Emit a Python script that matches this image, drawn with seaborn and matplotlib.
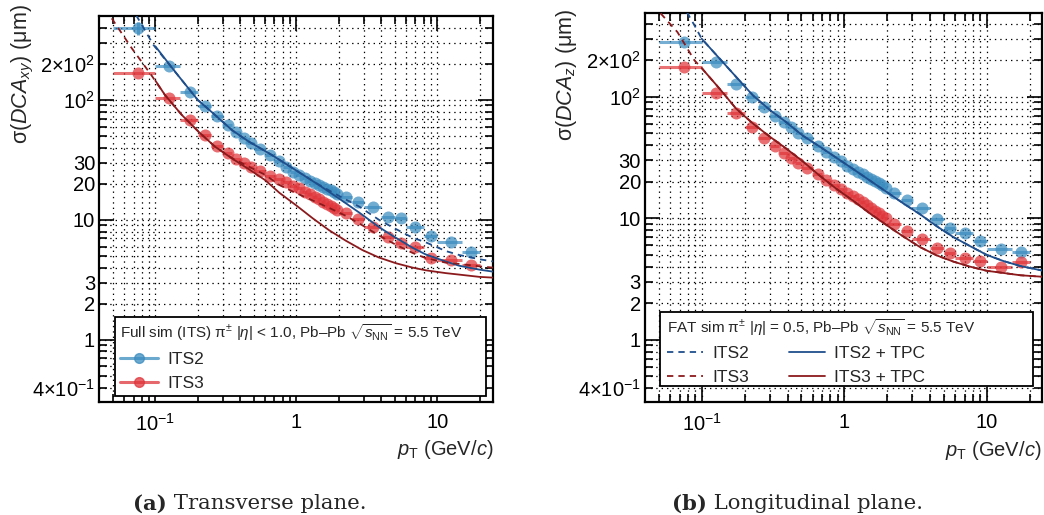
import numpy as np
import matplotlib
matplotlib.use('Agg')
import matplotlib.pyplot as plt
from matplotlib.lines import Line2D
from matplotlib.patches import Rectangle
import seaborn as sns

# pT bins of the simulated points (GeV/c)
pt_edges = [0.05, 0.1, 0.15, 0.2, 0.25, 0.3, 0.35, 0.4, 0.45, 0.5,
            0.6, 0.7, 0.8, 0.9, 1.0, 1.1, 1.2, 1.3, 1.4, 1.5, 1.6, 1.7, 1.8, 1.9, 2.0,
            2.5, 3.0, 4.0, 5.0, 6.0, 8.0, 10.0, 15.0, 20.0]

# full sim, transverse plane (um)
its2_xy_pts = [395, 192, 117, 89.7, 74, 62, 54.5, 47.9, 44, 38.8, 34.8, 31, 27.8, 25.3,
               23.7, 22.3, 21.2, 20.2, 19.5, 18.8, 18.2, 17.6, 17.1, 16.6,
               15.4, 14.2, 12.7, 10.5, 10.3, 8.8, 7.36, 6.6, 5.44]
its2_xy_yerr = [50] + [0] * 32
its3_xy_pts = [167, 103, 68, 51.1, 41.4, 36.4, 32.2, 29.7, 27.8, 25.6, 23.3, 21.8, 20.6, 19.0,
               18.4, 17.2, 16.4, 15.6, 14.9, 14.2, 13.6, 13.1, 12.6, 12.2,
               11.5, 10.1, 8.7, 7.2, 6.4, 6.0, 4.8, 4.64, 4.2]

# longitudinal plane (um)
its2_z_pts = [281, 192, 128, 99, 82, 70, 62, 56, 50.5, 46, 39.5, 35.3, 32, 29.5,
              27, 25.3, 24, 23, 22, 21.2, 20.3, 19.5, 18.7, 17.8,
              16.2, 14.2, 12.1, 9.9, 8.4, 7.5, 6.5, 5.6, 5.3]
its3_z_pts = [176, 107, 73, 56, 46, 39.3, 34.6, 31.1, 28.3, 25.8, 23.0, 20.7, 18.8, 17.3,
              16.1, 15.2, 14.3, 13.5, 12.8, 12.1, 11.5, 11.0, 10.5, 10.1,
              8.9, 7.8, 6.7, 5.7, 5.2, 4.7, 4.45, 4.0, 4.35]

# analytic (FAT) curves, transverse plane
its2_xy_x = [0.073, 0.097, 0.138, 0.2, 0.265, 0.35, 0.46, 0.67, 1.0, 1.46, 2.02, 2.8,
             3.87, 4.8, 6.7, 8.3, 11.5, 14.3, 19.9, 25]
its2_xy_y = [510, 287, 172, 100, 75, 56, 45, 34.8, 25.8, 19.5, 15.8, 12.9,
             10.0, 8.7, 7.1, 6.5, 5.5, 5.1, 4.7, 4.5]
its2tpc_xy_x = [0.1, 0.138, 0.2, 0.265, 0.35, 0.46, 0.67, 1.0, 1.46, 2.02, 2.8,
                3.87, 4.8, 6.7, 8.3, 11.5, 14.3, 19.9, 25]
its2tpc_xy_y = [280, 172, 100, 75, 56, 45, 34.8, 25.8, 19.4, 15.0, 11.5,
                8.7, 7.4, 5.85, 5.15, 4.5, 4.15, 3.85, 3.7]
its3_xy_x = [0.049, 0.068, 0.094, 0.117, 0.154, 0.202, 0.265, 0.35, 0.46, 0.6, 0.76, 1.0,
             1.31, 1.71, 2.25, 2.95, 3.87, 5.1, 6.7, 8.3, 11.5, 14.3, 19.9, 25]
its3_xy_y = [479, 270, 160, 110, 75, 54.5, 40.8, 32.8, 27.8, 23.8, 19.5, 16.7,
             14.5, 12.6, 10.8, 9.0, 7.4, 6.2, 5.3, 4.8, 4.4, 4.3, 4.1, 4.0]
its3tpc_xy_x = [0.1, 0.117, 0.154, 0.202, 0.265, 0.35, 0.46, 0.6, 0.76, 1.0, 1.31, 1.71,
                2.25, 2.95, 3.87, 5.1, 6.7, 8.3, 11.5, 14.3, 19.9, 25]
its3tpc_xy_y = [145, 110, 75, 54.5, 40.8, 32.5, 26.5, 21.5, 16.8, 13.2, 10.3, 8.2,
                6.7, 5.6, 4.85, 4.35, 4.0, 3.8, 3.6, 3.5, 3.35, 3.3]

# analytic curves, longitudinal plane
tpc_z_x = [0.1, 0.133, 0.174, 0.228, 0.30, 0.39, 0.51, 0.67, 0.88, 1.15, 1.51, 1.98,
           2.59, 3.4, 4.46, 5.84, 7.65, 10.0, 13.1, 17.2, 25]
its2tpc_z_y = [300, 207, 146, 103, 78, 62, 48, 39, 31.5, 25.5, 20.5, 16.5,
               13.3, 10.8, 8.6, 7.0, 5.9, 5.0, 4.45, 4.05, 3.7]
its3tpc_z_y = [172, 117, 80, 60.4, 47, 37.6, 29.5, 22.5, 17.5, 14.0, 11.0, 8.8,
               7.1, 5.8, 4.95, 4.4, 4.0, 3.7, 3.55, 3.4, 3.3]
its2_z_lowx = [0.0787, 0.089]
its2_z_lowy = [497, 386]
its3_z_lowx = [0.0515, 0.0676, 0.089]
its3_z_lowy = [485, 340, 199]

c_its2_pt = '#3b8cc0'
c_its3_pt = '#e0363b'
c_its2_ln = '#1f4e8c'
c_its3_ln = '#8b1a1d'
dash = (0, (3.5, 2.8))

sns.set_style('ticks')
plt.rcParams['font.family'] = ['Liberation Sans', 'DejaVu Sans']
plt.rcParams['mathtext.fontset'] = 'custom'
plt.rcParams['mathtext.rm'] = 'Liberation Sans'
plt.rcParams['mathtext.it'] = 'Liberation Sans:italic'
plt.rcParams['mathtext.bf'] = 'Liberation Sans:bold'

edges = np.array(pt_edges)
pt_c = 0.5 * (edges[1:] + edges[:-1])
pt_lo = pt_c - edges[:-1]
pt_hi = edges[1:] - pt_c

fig = plt.figure(figsize=(10.44, 5.15), dpi=100)
ax1 = fig.add_axes([0.0951, 0.22, 0.3774, 0.7495])
ax2 = fig.add_axes([0.6178, 0.22, 0.380, 0.7553])


def points(ax, y, color, yerr=None):
    ax.errorbar(pt_c, y, xerr=[pt_lo, pt_hi], yerr=yerr, fmt='none', ecolor=color,
                elinewidth=2.2, alpha=0.7, capsize=0, zorder=3)
    sns.scatterplot(x=pt_c, y=y, ax=ax, color=color, s=75, alpha=0.72,
                    linewidth=0, zorder=4)


def curve(ax, x, y, color, ls='-'):
    sns.lineplot(x=x, y=y, ax=ax, color=color, linewidth=1.3, linestyle=ls,
                 estimator=None, sort=False, zorder=5)


def style_axes(ax, ylabel, ylim, xlim):
    ax.set_xscale('log')
    ax.set_yscale('log')
    ax.set_xlim(*xlim)
    ax.set_ylim(*ylim)
    ax.set_xticks([0.1, 1, 10], labels=['$10^{-1}$', '1', '10'])
    ax.set_xticks([0.05, 0.06, 0.07, 0.08, 0.09, 0.2, 0.3, 0.4, 0.5, 0.6, 0.7, 0.8, 0.9,
                   2, 3, 4, 5, 6, 7, 8, 9, 20], minor=True)
    ax.set_yticks([1, 10, 100], labels=['1', '10', '$10^2$'])
    yminor = [0.4, 0.5, 0.6, 0.7, 0.8, 0.9, 2, 3, 4, 5, 6, 7, 8, 9,
              20, 30, 40, 50, 60, 70, 80, 90, 200, 300, 400]
    ylab = {0.4: r'4$\times$10$^{-1}$', 2: '2', 3: '3', 20: '20', 30: '30',
            200: r'2$\times$10$^2$'}
    ax.set_yticks(yminor, labels=[ylab.get(v, '') for v in yminor], minor=True)
    ax.tick_params(which='both', direction='in', top=True, right=True,
                   labelsize=14.5, width=1.2, colors='black')
    ax.tick_params(which='major', length=11)
    ax.tick_params(which='minor', length=6)
    ax.tick_params(axis='x', which='both', pad=8)
    ax.tick_params(axis='y', which='both', pad=3)
    ax.grid(True, which='both', color='black', linestyle=(0, (1.1, 3.2)), linewidth=0.9)
    ax.set_axisbelow(True)
    for sp in ax.spines.values():
        sp.set_linewidth(1.6)
        sp.set_color('black')
    ax.set_xlabel(r'$p_{\mathrm{T}}$ (GeV/$c$)', fontsize=14.5, loc='right')
    ax.xaxis.set_label_coords(1.0, -0.095)
    ax.set_ylabel(ylabel, fontsize=15.5, loc='top')


# transverse plane
points(ax1, its2_xy_pts, c_its2_pt, yerr=its2_xy_yerr)
points(ax1, its3_xy_pts, c_its3_pt)
curve(ax1, its2_xy_x, its2_xy_y, c_its2_ln, dash)
curve(ax1, its2tpc_xy_x, its2tpc_xy_y, c_its2_ln)
curve(ax1, its3_xy_x, its3_xy_y, c_its3_ln, dash)
curve(ax1, its3tpc_xy_x, its3tpc_xy_y, c_its3_ln)
style_axes(ax1, r'σ($DCA_{xy}$) (μm)', (0.305, 504), (0.04, 25))
ax1.yaxis.set_label_coords(-0.161, 1.03)

h1 = [Line2D([], [], color=c_its2_pt, marker='o', ms=7, lw=2.2, alpha=0.75),
      Line2D([], [], color=c_its3_pt, marker='o', ms=7, lw=2.2, alpha=0.75)]
leg1 = ax1.legend(h1, ['ITS2', 'ITS3'],
                  title=r'Full sim (ITS) π$^{\pm}$ |$\eta$| < 1.0, Pb–Pb $\sqrt{s_{\mathrm{NN}}}$ = 5.5 TeV',
                  loc='lower left', bbox_to_anchor=(0.04, 0.015, 0.941, 0.205), mode='expand',
                  fancybox=False, edgecolor='black', framealpha=1, fontsize=12.5,
                  title_fontsize=11, alignment='left', borderpad=0.3, labelspacing=0.5,
                  handlelength=2.2, handletextpad=0.5, borderaxespad=0)
leg1.get_frame().set_linewidth(1.3)

# longitudinal plane
points(ax2, its2_z_pts, c_its2_pt)
points(ax2, its3_z_pts, c_its3_pt)
curve(ax2, its2_z_lowx + tpc_z_x, its2_z_lowy + its2tpc_z_y, c_its2_ln, dash)
curve(ax2, its3_z_lowx + tpc_z_x, its3_z_lowy + its3tpc_z_y, c_its3_ln, dash)
curve(ax2, tpc_z_x, its2tpc_z_y, c_its2_ln)
curve(ax2, tpc_z_x, its3tpc_z_y, c_its3_ln)
style_axes(ax2, r'σ($DCA_{z}$) (μm)', (0.31, 491), (0.04, 24.3))
ax2.yaxis.set_label_coords(-0.167, 1.01)

# frame of the second legend drawn separately so the columns are not spread out
ax2.add_patch(Rectangle((0.038, 0.04), 0.94, 0.191, transform=ax2.transAxes,
                        facecolor='white', edgecolor='black', linewidth=1.3, zorder=6))
h2 = [Line2D([], [], color=c_its2_ln, lw=1.3, linestyle=dash),
      Line2D([], [], color=c_its3_ln, lw=1.3, linestyle=dash),
      Line2D([], [], color=c_its2_ln, lw=1.3),
      Line2D([], [], color=c_its3_ln, lw=1.3)]
leg2 = ax2.legend(h2, ['ITS2', 'ITS3', 'ITS2 + TPC', 'ITS3 + TPC'], ncol=2,
                  title=r'FAT sim π$^{\pm}$ |$\eta$| = 0.5, Pb–Pb $\sqrt{s_{\mathrm{NN}}}$ = 5.5 TeV',
                  loc='upper left', bbox_to_anchor=(0.042, 0.231), frameon=False,
                  fontsize=12.5, title_fontsize=11, alignment='left', borderpad=0.3,
                  labelspacing=0.5, handlelength=2.1, handletextpad=0.5, columnspacing=2.3,
                  borderaxespad=0)
leg2.set_zorder(7)

# sub-captions
for ax, xpos, tag, txt in [(ax1, 0.1274, '(a)', ' Transverse plane.'),
                           (ax2, 0.6434, '(b)', ' Longitudinal plane.')]:
    t = fig.text(xpos, 0.022, tag, fontsize=15.3, fontweight='bold', family='DejaVu Serif',
                 va='center', ha='left')
    ax.annotate(txt, xy=(1, 0.5), xycoords=t, va='center', ha='left',
                fontsize=15.3, family='DejaVu Serif', annotation_clip=False)

fig.savefig('out.png', dpi=100)
